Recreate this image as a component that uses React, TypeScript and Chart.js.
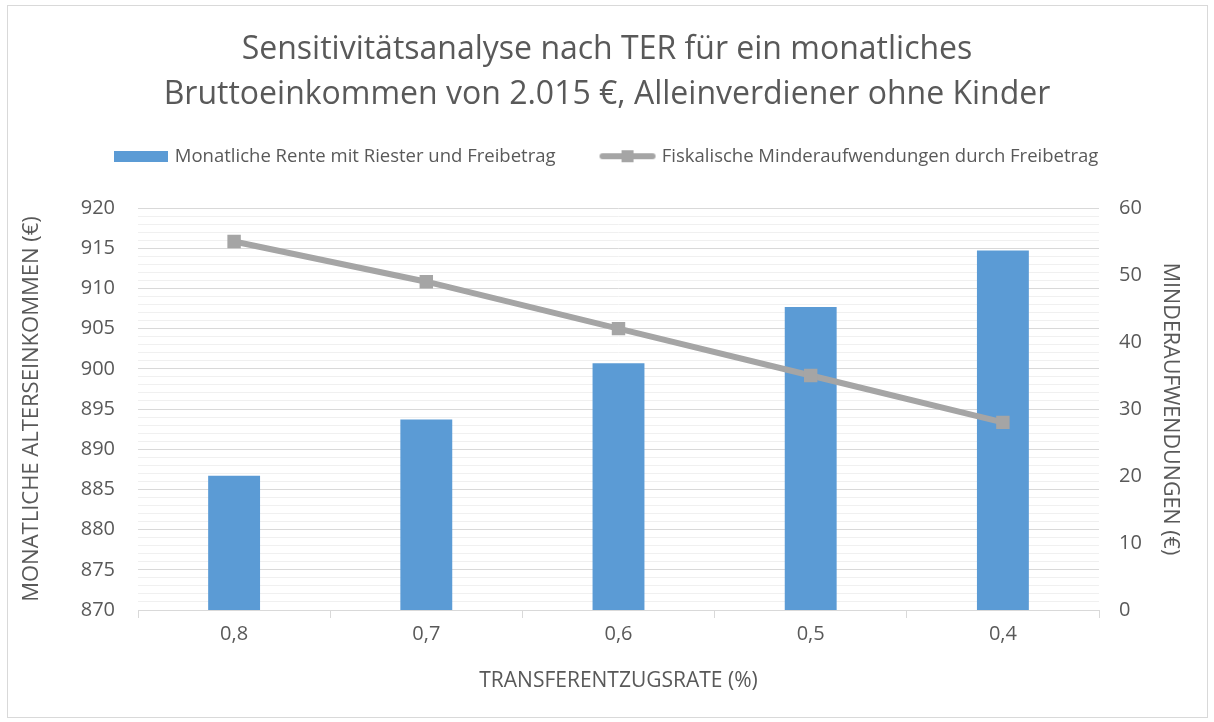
import React, { useEffect, useRef } from 'react';
import { Chart, registerables } from 'chart.js';

Chart.register(...registerables);

const categories = ['0,8', '0,7', '0,6', '0,5', '0,4'];
const renteValues = [886.7, 893.7, 900.7, 907.7, 914.7];
const minderValues = [55, 49, 42, 35, 28];
const titleLines = [
  'Sensitivitätsanalyse nach TER für ein monatliches',
  'Bruttoeinkommen von 2.015 €, Alleinverdiener ohne Kinder',
];
const seriesNames = [
  'Monatliche Rente mit Riester und Freibetrag',
  'Fiskalische Minderaufwendungen durch Freibetrag',
];
const leftTitle = 'MONATLICHE ALTERSEINKOMMEN (€)';
const rightTitle = 'MINDERAUFWENDUNGEN (€)';
const xTitle = 'TRANSFERENTZUGSRATE (%)';

const FONT = "'Open Sans', 'DejaVu Sans', sans-serif";
const TEXT = '#595959';
const BLUE = '#5B9BD5';
const GRAY = '#A5A5A5';

function makeBarIcon() {
  const c = document.createElement('canvas');
  c.width = 54;
  c.height = 11;
  const g = c.getContext('2d')!;
  g.fillStyle = BLUE;
  g.fillRect(0, 0, 54, 11);
  return c;
}

function makeLineIcon() {
  const c = document.createElement('canvas');
  c.width = 58;
  c.height = 14;
  const g = c.getContext('2d')!;
  g.strokeStyle = GRAY;
  g.lineWidth = 6;
  g.lineCap = 'round';
  g.beginPath();
  g.moveTo(4, 7);
  g.lineTo(54, 7);
  g.stroke();
  g.fillStyle = GRAY;
  g.fillRect(23, 1, 12, 12);
  return c;
}

const framePlugin = {
  id: 'frame',
  beforeInit(chart: any) {
    const legend = chart.legend;
    if (legend) {
      const orig = legend.fit;
      legend.fit = function () {
        orig.call(this);
        this.height = 108;
      };
    }
  },
  beforeDraw(chart: any) {
    const { ctx } = chart;
    ctx.save();
    ctx.fillStyle = '#ffffff';
    ctx.fillRect(0, 0, chart.width, chart.height);
    ctx.strokeStyle = '#d9d9d9';
    ctx.lineWidth = 1;
    ctx.strokeRect(7.5, 5.5, 1200, 712);
    ctx.restore();
  },
};

export default function App() {
  const ref = useRef<HTMLCanvasElement>(null);

  useEffect(() => {
    if (!ref.current) return;
    const barIcon = makeBarIcon();
    const lineIcon = makeLineIcon();
    const chart = new Chart(ref.current, {
      type: 'bar',
      data: {
        labels: categories,
        datasets: [
          {
            type: 'bar',
            label: seriesNames[0],
            data: renteValues,
            backgroundColor: BLUE,
            borderColor: BLUE,
            borderWidth: 0,
            yAxisID: 'y',
            barPercentage: 0.27,
            categoryPercentage: 1,
            order: 1,
          },
          {
            type: 'line',
            label: seriesNames[1],
            data: minderValues,
            borderColor: GRAY,
            backgroundColor: GRAY,
            borderWidth: 6,
            borderCapStyle: 'round',
            pointStyle: 'rect',
            pointRadius: 9.5,
            pointBackgroundColor: GRAY,
            pointBorderWidth: 0,
            yAxisID: 'y1',
            order: 0,
          },
        ] as any,
      },
      options: {
        animation: false,
        responsive: true,
        maintainAspectRatio: false,
        layout: { padding: { top: 6, left: 8, right: 8, bottom: 8 } },
        plugins: {
          tooltip: { enabled: false },
          title: {
            display: true,
            text: titleLines,
            color: TEXT,
            font: { family: FONT, size: 32, weight: 'normal', lineHeight: 1.4 },
            padding: { top: 21.6, bottom: -17.2 },
          },
          legend: {
            display: true,
            position: 'top',
            labels: {
              color: TEXT,
              font: { family: FONT, size: 18.5 },
              usePointStyle: true,
              pointStyleWidth: 50,
              padding: 47,
              sort: (a: any, b: any) => a.datasetIndex - b.datasetIndex,
              generateLabels: (c: any) => {
                const items = (Chart.defaults.plugins.legend.labels as any).generateLabels(c);
                items.forEach((it: any) => {
                  it.pointStyle = it.datasetIndex === 0 ? barIcon : lineIcon;
                  it.fontColor = TEXT;
                });
                return items;
              },
            },
          },
        },
        scales: {
          x: {
            offset: true,
            grid: {
              display: true,
              drawOnChartArea: false,
              drawTicks: true,
              tickLength: 8,
              color: '#d9d9d9',
            },
            border: { display: true, color: '#d9d9d9' },
            ticks: { color: TEXT, font: { family: FONT, size: 20 }, padding: 4 },
            title: {
              display: true,
              text: xTitle,
              color: TEXT,
              font: { family: FONT, size: 21 },
              padding: { top: 0, bottom: 20 },
            },
            afterFit: (s: any) => {
              s.height = 104;
            },
          },
          y: {
            position: 'left',
            min: 870,
            max: 920,
            ticks: {
              stepSize: 1,
              autoSkip: false,
              color: TEXT,
              font: { family: FONT, size: 20 },
              padding: 23,
              callback: (v: any) => (Math.round(v) % 5 === 0 ? String(v) : ''),
            },
            grid: {
              drawTicks: false,
              color: (ctx: any) =>
                ctx.tick && Math.round(ctx.tick.value) % 5 === 0 ? '#d9d9d9' : '#f0f0f0',
              lineWidth: 1,
            },
            border: { display: false },
            title: {
              display: true,
              text: leftTitle,
              color: TEXT,
              font: { family: FONT, size: 22 },
              padding: { top: 11, bottom: 0 },
            },
            afterFit: (s: any) => {
              s.width = 130;
            },
          },
          y1: {
            position: 'right',
            min: 0,
            max: 60,
            ticks: {
              stepSize: 10,
              color: TEXT,
              font: { family: FONT, size: 20 },
              padding: 20,
            },
            grid: { display: false, drawTicks: false },
            border: { display: false },
            title: {
              display: true,
              text: rightTitle,
              color: TEXT,
              font: { family: FONT, size: 21.5 },
              padding: { top: 23, bottom: 0 },
            },
            afterFit: (s: any) => {
              s.width = 107;
            },
          },
        },
      },
      plugins: [framePlugin],
    });
    return () => chart.destroy();
  }, []);

  return (
    <div style={{ position: 'absolute', left: 0, top: 0, width: 1214, height: 722, background: '#fff' }}>
      <canvas ref={ref} />
    </div>
  );
}
